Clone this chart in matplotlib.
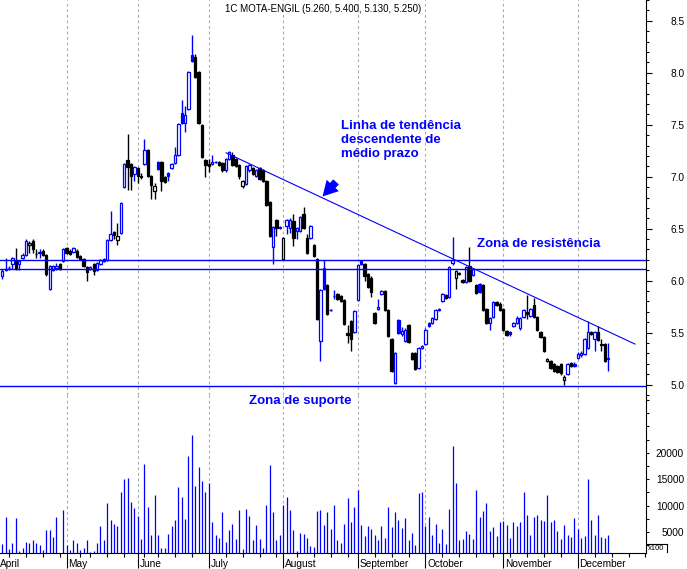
import numpy as np
import matplotlib
matplotlib.use('Agg')
import matplotlib.pyplot as plt
from matplotlib.patches import Rectangle
from matplotlib.lines import Line2D
from matplotlib.transforms import blended_transform_factory

plt.rcParams['font.family'] = ['Liberation Sans', 'DejaVu Sans']

BLUE = '#0000ff'

# cotacoes diarias (abril a dezembro)
opens = [6.04, 6.10, 6.12, 6.16, 6.19, 6.16, 6.22, 6.25, 6.34, 6.38,
         6.26, 6.27, 6.29, 6.25, 5.92, 6.10, 6.12, 6.16, 6.19, 6.31,
         6.29, 6.28, 6.29, 6.24, 6.21, 6.13, 6.11, 6.16, 6.10, 6.16,
         6.19, 6.20, 6.39, 6.47, 6.39, 6.46, 6.90, 7.16, 7.12, 7.03,
         7.08, 7.01, 7.12, 7.26, 7.01, 6.86, 7.14, 7.14, 7.00, 7.04,
         7.08, 7.13, 7.21, 7.61, 7.52, 7.65, 8.17, 8.15, 8.01, 7.50,
         7.16, 7.12, 7.12, 7.14, 7.14, 7.13, 7.06, 7.17, 7.21, 7.17,
         7.11, 6.91, 6.93, 7.06, 7.08, 7.01, 7.08, 7.06, 6.96, 6.76,
         6.32, 6.58, 6.51, 6.21, 6.53, 6.51, 6.57, 6.48, 6.48, 6.64,
         6.41, 6.41, 6.34, 6.21, 5.42, 6.12, 5.96, 5.72, 5.85, 5.87,
         5.85, 5.81, 5.50, 5.61, 5.51, 5.81, 6.19, 6.16, 6.06, 6.03,
         5.69, 5.73, 5.87, 5.90, 5.72, 5.44, 5.02, 5.62, 5.49, 5.42,
         5.57, 5.30, 5.30, 5.16, 5.35, 5.39, 5.59, 5.59, 5.63, 5.72,
         5.80, 5.86, 5.84, 6.17, 6.03, 6.07, 6.01, 5.99, 6.14, 6.05,
         5.96, 5.97, 5.96, 5.73, 5.59, 5.65, 5.79, 5.78, 5.73, 5.52,
         5.51, 5.56, 5.59, 5.54, 5.65, 5.70, 5.66, 5.77, 5.65, 5.51,
         5.46, 5.23, 5.23, 5.20, 5.18, 5.20, 5.04, 5.10, 5.21, 5.20,
         5.26, 5.28, 5.29, 5.35, 5.51, 5.44, 5.51, 5.39, 5.39, 5.26]
highs = [6.11, 6.22, 6.14, 6.23, 6.31, 6.20, 6.27, 6.40, 6.38, 6.40,
         6.30, 6.30, 6.30, 6.26, 6.15, 6.15, 6.17, 6.17, 6.31, 6.32,
         6.30, 6.32, 6.30, 6.25, 6.22, 6.14, 6.14, 6.17, 6.18, 6.21,
         6.22, 6.40, 6.67, 6.48, 6.55, 6.76, 7.13, 7.41, 7.13, 7.10,
         7.09, 7.04, 7.36, 7.27, 7.02, 6.94, 7.15, 7.15, 7.01, 7.05,
         7.13, 7.29, 7.52, 7.74, 7.68, 8.02, 8.36, 8.18, 8.02, 7.51,
         7.17, 7.17, 7.21, 7.15, 7.15, 7.14, 7.18, 7.25, 7.24, 7.18,
         7.12, 6.97, 7.11, 7.12, 7.09, 7.07, 7.09, 7.07, 6.97, 6.77,
         6.53, 6.59, 6.53, 6.42, 6.59, 6.60, 6.64, 6.52, 6.62, 6.71,
         6.45, 6.54, 6.35, 6.22, 5.92, 6.20, 5.97, 5.73, 5.91, 5.88,
         5.86, 5.82, 5.57, 5.62, 5.72, 6.16, 6.20, 6.17, 6.07, 6.04,
         5.70, 5.82, 5.91, 5.91, 5.73, 5.45, 5.31, 5.63, 5.55, 5.54,
         5.58, 5.31, 5.31, 5.36, 5.38, 5.54, 5.60, 5.65, 5.73, 5.74,
         5.88, 5.87, 6.14, 6.42, 6.10, 6.08, 6.02, 6.14, 6.32, 6.12,
         5.97, 5.98, 5.97, 5.74, 5.65, 5.80, 5.80, 5.79, 5.74, 5.53,
         5.52, 5.60, 5.66, 5.65, 5.73, 5.86, 5.74, 5.83, 5.66, 5.52,
         5.47, 5.26, 5.24, 5.21, 5.19, 5.21, 5.09, 5.21, 5.22, 5.22,
         5.31, 5.32, 5.45, 5.61, 5.52, 5.52, 5.56, 5.44, 5.40, 5.40]
lows = [6.02, 6.09, 6.10, 6.11, 6.10, 6.10, 6.21, 6.24, 6.27, 6.27,
        6.22, 6.22, 6.24, 6.04, 5.91, 6.09, 6.10, 6.10, 6.18, 6.26,
        6.25, 6.27, 6.22, 6.20, 6.13, 6.00, 6.10, 6.05, 6.09, 6.15,
        6.18, 6.19, 6.38, 6.40, 6.34, 6.45, 6.89, 6.87, 6.87, 6.96,
        6.94, 6.98, 7.11, 7.00, 6.79, 6.79, 7.06, 6.86, 6.94, 6.96,
        7.07, 7.12, 7.20, 7.51, 7.43, 7.64, 8.10, 7.95, 7.51, 7.18,
        7.00, 7.05, 7.11, 7.13, 7.10, 7.05, 7.05, 7.16, 7.10, 7.09,
        6.98, 6.89, 6.92, 7.05, 7.02, 7.00, 6.97, 6.95, 6.72, 6.42,
        6.16, 6.43, 6.50, 6.20, 6.45, 6.46, 6.33, 6.40, 6.47, 6.50,
        6.26, 6.40, 6.23, 5.62, 5.23, 5.91, 5.67, 5.71, 5.82, 5.81,
        5.79, 5.57, 5.40, 5.32, 5.50, 5.80, 6.15, 6.00, 5.93, 5.84,
        5.58, 5.72, 5.86, 5.71, 5.46, 5.12, 5.01, 5.49, 5.47, 5.41,
        5.40, 5.24, 5.14, 5.15, 5.34, 5.38, 5.55, 5.58, 5.62, 5.71,
        5.79, 5.82, 5.83, 6.15, 5.92, 6.05, 5.98, 5.98, 5.99, 6.04,
        5.87, 5.88, 5.71, 5.58, 5.53, 5.64, 5.76, 5.71, 5.52, 5.47,
        5.47, 5.55, 5.58, 5.53, 5.64, 5.63, 5.65, 5.64, 5.52, 5.45,
        5.31, 5.22, 5.15, 5.12, 5.11, 5.09, 5.00, 5.09, 5.17, 5.17,
        5.25, 5.27, 5.28, 5.34, 5.48, 5.32, 5.42, 5.32, 5.22, 5.13]
closes = [6.09, 6.11, 6.12, 6.22, 6.11, 6.19, 6.25, 6.38, 6.36, 6.30,
          6.26, 6.28, 6.25, 6.06, 6.14, 6.14, 6.14, 6.11, 6.30, 6.27,
          6.26, 6.31, 6.23, 6.21, 6.14, 6.08, 6.13, 6.09, 6.17, 6.20,
          6.21, 6.39, 6.45, 6.44, 6.43, 6.75, 7.12, 7.09, 7.01, 7.09,
          7.01, 7.00, 7.26, 7.01, 6.92, 6.91, 7.07, 6.96, 6.95, 7.01,
          7.12, 7.21, 7.51, 7.52, 7.59, 8.01, 8.11, 7.96, 7.52, 7.19,
          7.11, 7.10, 7.14, 7.14, 7.11, 7.06, 7.17, 7.24, 7.11, 7.10,
          7.01, 6.96, 7.10, 7.11, 7.03, 7.06, 6.98, 6.96, 6.73, 6.43,
          6.52, 6.51, 6.52, 6.41, 6.58, 6.58, 6.41, 6.51, 6.61, 6.51,
          6.27, 6.53, 6.24, 5.63, 5.91, 5.92, 5.68, 5.72, 5.85, 5.82,
          5.80, 5.58, 5.48, 5.44, 5.71, 6.15, 6.16, 6.04, 5.94, 5.89,
          5.59, 5.75, 5.90, 5.72, 5.47, 5.13, 5.30, 5.50, 5.52, 5.53,
          5.41, 5.25, 5.15, 5.35, 5.37, 5.53, 5.56, 5.64, 5.72, 5.73,
          5.87, 5.83, 6.13, 6.20, 6.09, 6.06, 5.99, 6.13, 6.00, 6.11,
          5.88, 5.89, 5.72, 5.59, 5.64, 5.79, 5.77, 5.72, 5.53, 5.48,
          5.49, 5.59, 5.64, 5.64, 5.72, 5.68, 5.73, 5.65, 5.53, 5.46,
          5.32, 5.25, 5.16, 5.13, 5.12, 5.11, 5.07, 5.20, 5.18, 5.18,
          5.29, 5.30, 5.44, 5.51, 5.49, 5.51, 5.43, 5.38, 5.23, 5.25]
# volume (x100)
volume = [2700, 7900, 1800, 3000, 7700, 1400, 2000, 3200, 3000, 3400,
          3000, 2600, 1500, 5400, 5400, 4100, 7900, 0, 9200, 2500,
          1600, 3400, 3000, 1500, 2000, 3500, 1300, 1400, 3000, 6200,
          3500, 10400, 7300, 6600, 6200, 12600, 15100, 15300, 10700, 9600,
          8100, 3700, 17900, 9800, 4400, 12100, 4500, 2000, 2000, 4600,
          6200, 7200, 13600, 11700, 7500, 19300, 23400, 13800, 17400, 14700,
          12500, 14300, 6800, 4400, 3900, 8700, 3200, 5400, 6500, 3700,
          9200, 1800, 9400, 8100, 3500, 6400, 3700, 2000, 10100, 17600,
          8800, 3500, 4500, 10200, 11700, 9200, 5300, 1400, 4900, 4700,
          3900, 2400, 2200, 9000, 9200, 6400, 8700, 5600, 10200, 3400,
          3000, 6600, 11500, 6900, 9700, 13000, 6300, 4300, 6100, 5600,
          4500, 3500, 6200, 3900, 9700, 6000, 8800, 7300, 5800, 7700,
          3500, 4900, 2600, 12400, 12600, 6200, 7900, 4500, 6500, 3000,
          5600, 2800, 9400, 21200, 14300, 3400, 3700, 5200, 4700, 3700,
          13000, 7900, 8900, 10400, 5100, 6000, 4300, 6900, 7100, 6400,
          3900, 6800, 6200, 6800, 12600, 8300, 4500, 7900, 8300, 7200,
          7000, 12100, 6800, 7200, 5100, 3700, 6400, 4500, 4100, 7700,
          5600, 3900, 4300, 15100, 7300, 4500, 8300, 4100, 3900, 4500]

month_names = ['April', 'May', 'June', 'July', 'August', 'September',
               'October', 'November', 'December']
month_start = [0, 19, 40, 61, 83, 105, 125, 148, 170]
week_ticks = [2, 7, 12, 17, 23, 26, 31, 36, 42, 46, 51, 56, 66, 71, 76, 81,
              87, 92, 97, 102, 110, 115, 120, 130, 135, 140, 145, 150, 155,
              160, 165, 175, 180, 185, 190]

resist_hi = 6.20
resist_lo = 6.11
support = 4.99
trend_x = [66.1, 186.9]
trend_y = [7.23, 5.39]

W, H = 687, 569
fig = plt.figure(figsize=(W / 100, H / 100), dpi=100)
fig.patch.set_facecolor('white')

ax = fig.add_axes([0, 1 - 395 / H, 646 / W, 395 / H])
axv = fig.add_axes([0, 1 - 553 / H, 646 / W, 158 / H], sharex=ax)

xlim = (-0.68, 190.16)

# ---- candles ----
o = np.array(opens); hi = np.array(highs); lo = np.array(lows); c = np.array(closes)
n = len(c)
x = np.arange(n)
prev = np.r_[c[0], c[:-1]]
cols = np.where(c >= prev, BLUE, 'black')
w = 0.7

ax.vlines(x, lo, hi, colors=cols, lw=1.0, zorder=2)
for i in range(n):
    if abs(c[i] - o[i]) < 0.005:
        ax.hlines(c[i], x[i] - w / 2, x[i] + w / 2, colors=cols[i], lw=1.0, zorder=3)
    else:
        face = 'white' if c[i] > o[i] else cols[i]
        ax.add_patch(Rectangle((x[i] - w / 2, min(o[i], c[i])), w, abs(c[i] - o[i]),
                               facecolor=face, edgecolor=cols[i], lw=0.9, zorder=3))

ax.axhline(resist_hi, color=BLUE, lw=1.0, zorder=4)
ax.axhline(resist_lo, color=BLUE, lw=1.0, zorder=4)
ax.axhline(support, color=BLUE, lw=1.0, zorder=4)
ax.plot(trend_x, trend_y, color=BLUE, lw=0.8, zorder=4)
ax.annotate('', xy=(94.6, 6.81), xytext=(98.6, 6.95),
            arrowprops=dict(arrowstyle='simple,head_length=0.9,head_width=1.0,tail_width=0.45',
                            color=BLUE, lw=0, mutation_scale=12, shrinkA=0, shrinkB=0))

ax.set_xlim(*xlim)
ax.set_ylim(8.5 - (395 - 20) / 105.43, 8.5 + 20 / 105.43)

# ---- volume ----
axv.vlines(x, 0, volume, colors=BLUE, lw=0.9)
axv.set_ylim((558.4 - 553) / 26.4 * 5000, (558.4 - 395) / 26.4 * 5000)

for a in (ax, axv):
    a.set_facecolor('none')
    for m in month_start[1:]:
        a.axvline(m, color='#ababab', lw=0.8, ls=(0, (2.5, 2.5)), zorder=1)
    for s in ('left', 'top'):
        a.spines[s].set_visible(False)
    a.spines['right'].set_linewidth(0.8)
    a.yaxis.tick_right()

ax.spines['bottom'].set_visible(False)
ax.tick_params(axis='x', which='both', bottom=False, labelbottom=False)

ax.set_yticks(np.arange(5.0, 8.51, 0.5))
ax.set_yticks(np.arange(4.9, 8.71, 0.1), minor=True)
ax.set_yticklabels(['%.1f' % v for v in np.arange(5.0, 8.51, 0.5)])
ax.tick_params(axis='y', which='major', length=4.5, width=0.8, labelsize=7.3, pad=23)
ax.tick_params(axis='y', which='minor', length=2.3, width=0.8)
for lab in ax.get_yticklabels():
    lab.set_ha('right')

vt = [5000, 10000, 15000, 20000]
axv.set_yticks(vt)
axv.set_yticklabels([str(v) for v in vt])
axv.set_yticks(np.arange(2500, 30001, 2500), minor=True)
axv.tick_params(axis='y', which='both', length=2.3, width=0.8, labelsize=7.3, pad=25)
for lab in axv.get_yticklabels():
    lab.set_ha('right')

axv.spines['bottom'].set_linewidth(0.8)
axv.set_xticks(month_start[1:])
axv.set_xticks(week_ticks, minor=True)
axv.tick_params(axis='x', which='major', length=11, width=0.8, labelbottom=False)
axv.tick_params(axis='x', which='minor', length=3, width=0.8)
axv.set_xlim(*xlim)

tr = blended_transform_factory(axv.transData, axv.transAxes)
for k, (name, m) in enumerate(zip(month_names, month_start)):
    xm = xlim[0] + 0.1 if k == 0 else m + 0.5
    axv.text(xm, -0.035, name, transform=tr, ha='left', va='top', fontsize=7.3,
             clip_on=False)

# ---- texts ----
def px(xp, yp):
    return xp / W, 1 - yp / H

fig.text(*px(323, 9), '1C MOTA-ENGIL (5.260, 5.400, 5.130, 5.250)', ha='center',
         va='center', fontsize=7.0)
fig.text(*px(341, 120), 'Linha de tendência\ndescendente de\nmédio prazo', ha='left',
         va='top', fontsize=9.5, fontweight='bold', color=BLUE, linespacing=1.25)
fig.text(*px(477, 238), 'Zona de resistência', ha='left', va='top', fontsize=9.5,
         fontweight='bold', color=BLUE)
fig.text(*px(249, 395), 'Zona de suporte', ha='left', va='top', fontsize=9.5,
         fontweight='bold', color=BLUE)

fig.text(*px(648, 548.5), 'x100', ha='left', va='center', fontsize=5.5)
for (x0, y0, x1, y1) in [(647, 544, 667, 544), (667, 544, 667, 552)]:
    fig.add_artist(Line2D([x0 / W, x1 / W], [1 - y0 / H, 1 - y1 / H], color='black', lw=0.8))

fig.savefig('out.png', dpi=100)
